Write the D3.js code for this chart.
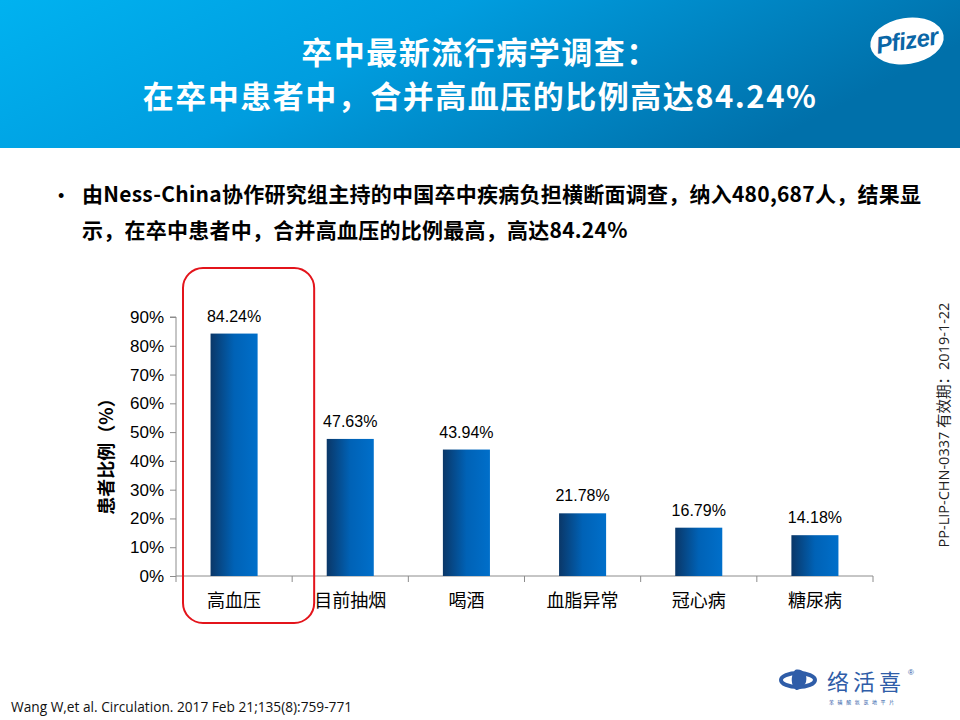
<!DOCTYPE html>
<html>
<head>
<meta charset="utf-8">
<script src="https://cdn.jsdelivr.net/npm/d3@7"></script>
<style>
  body { margin: 0; background: #fff; }
  svg { display: block; }
</style>
</head>
<body>
<div id="chart"></div>
<script>
// data
const categories = ['高血压', '目前抽烟', '喝酒', '血脂异常', '冠心病', '糖尿病'];
const values = [84.24, 47.63, 43.94, 21.78, 16.79, 14.18];
const yTicks = [0, 10, 20, 30, 40, 50, 60, 70, 80, 90];
const titleLines = ['卒中最新流行病学调查：', '在卒中患者中，合并高血压的比例高达84.24%'];
const bulletLines = [
  '由Ness-China协作研究组主持的中国卒中疾病负担横断面调查，纳入480,687人，结果显',
  '示，在卒中患者中，合并高血压的比例最高，高达84.24%'
];

const W = 960, H = 720;
const cjk = '"Noto Sans CJK SC", "Noto Sans", sans-serif';
const arial = '"Liberation Sans", Arial, sans-serif';

const svg = d3.select('#chart').append('svg')
  .attr('width', W)
  .attr('height', H);

const defs = svg.append('defs');

// header gradient
const hg = defs.append('linearGradient').attr('id', 'hdr')
  .attr('x1', '0%').attr('y1', '0%').attr('x2', '100%').attr('y2', '30%');
hg.append('stop').attr('offset', '0%').attr('stop-color', '#00b2f0');
hg.append('stop').attr('offset', '45%').attr('stop-color', '#009ddf');
hg.append('stop').attr('offset', '100%').attr('stop-color', '#0070aa');

// bar gradient (dark left edge -> bright blue)
const bg = defs.append('linearGradient').attr('id', 'bar')
  .attr('x1', '0%').attr('y1', '0%').attr('x2', '100%').attr('y2', '0%');
bg.append('stop').attr('offset', '0%').attr('stop-color', '#0a3768');
bg.append('stop').attr('offset', '50%').attr('stop-color', '#0062b6');
bg.append('stop').attr('offset', '100%').attr('stop-color', '#006fca');

// header band
svg.append('rect')
  .attr('width', W).attr('height', 148)
  .attr('fill', 'url(#hdr)');

svg.selectAll('.title')
  .data(titleLines)
  .enter().append('text')
  .attr('class', 'title')
  .attr('x', 480)
  .attr('y', (d, i) => 64 + i * 44)
  .attr('text-anchor', 'middle')
  .attr('fill', '#fff')
  .attr('font-family', cjk)
  .attr('font-weight', 'bold')
  .attr('font-size', 31)
  .attr('letter-spacing', 1.5)
  .text(d => d);

// Pfizer oval
const pf = svg.append('g').attr('transform', 'translate(907,41) rotate(-9)');
pf.append('ellipse')
  .attr('rx', 37).attr('ry', 23)
  .attr('fill', '#fff');
pf.append('text')
  .attr('y', 8)
  .attr('text-anchor', 'middle')
  .attr('fill', '#0a66a6')
  .attr('font-family', arial)
  .attr('font-weight', 'bold')
  .attr('font-style', 'italic')
  .attr('font-size', 24)
  .attr('letter-spacing', -0.5)
  .text('Pfizer');

// bullet text
svg.append('text')
  .attr('x', 58).attr('y', 202)
  .attr('font-family', arial)
  .attr('font-size', 18)
  .attr('fill', '#000')
  .text('•');

svg.selectAll('.bullet')
  .data(bulletLines)
  .enter().append('text')
  .attr('class', 'bullet')
  .attr('x', 82)
  .attr('y', (d, i) => 202 + i * 36)
  .attr('font-family', cjk)
  .attr('font-weight', 'bold')
  .attr('font-size', 21)
  .attr('letter-spacing', 0.25)
  .attr('fill', '#000')
  .text(d => d);

// chart
const x0 = 176, x1 = 873, yBottom = 576, yTop = 317;

const x = d3.scaleBand()
  .domain(categories)
  .range([x0, x1])
  .paddingInner(0.595)
  .paddingOuter(0.2975);

const xBand = d3.scaleBand()
  .domain(categories)
  .range([x0, x1]);

const y = d3.scaleLinear()
  .domain([0, 90])
  .range([yBottom, yTop]);

const chart = svg.append('g');

// y axis
const yAxis = chart.append('g')
  .attr('transform', `translate(${x0},0)`)
  .call(d3.axisLeft(y).tickValues(yTicks).tickSize(6).tickPadding(6).tickFormat(d => d + '%'));
yAxis.select('.domain').attr('stroke', '#8c8c8c').attr('d', `M-6,${yTop}H0V${yBottom}`);
yAxis.selectAll('.tick line').attr('stroke', '#8c8c8c');
yAxis.selectAll('.tick text')
  .attr('font-family', arial)
  .attr('font-size', 17)
  .attr('fill', '#000');

// x axis: baseline with ticks at band boundaries
chart.append('line')
  .attr('x1', x0).attr('x2', x1)
  .attr('y1', yBottom).attr('y2', yBottom)
  .attr('stroke', '#8c8c8c');

chart.selectAll('.xtick')
  .data(categories.concat(['end']))
  .enter().append('line')
  .attr('class', 'xtick')
  .attr('x1', (d, i) => i < categories.length ? xBand(d) : x1)
  .attr('x2', (d, i) => i < categories.length ? xBand(d) : x1)
  .attr('y1', yBottom).attr('y2', yBottom + 6)
  .attr('stroke', '#8c8c8c');

chart.selectAll('.xlabel')
  .data(categories)
  .enter().append('text')
  .attr('class', 'xlabel')
  .attr('x', d => xBand(d) + xBand.bandwidth() / 2)
  .attr('y', 607)
  .attr('text-anchor', 'middle')
  .attr('font-family', cjk)
  .attr('font-size', 18)
  .attr('fill', '#000')
  .text(d => d);

// bars
chart.selectAll('.bar')
  .data(values)
  .enter().append('rect')
  .attr('class', 'bar')
  .attr('x', (d, i) => x(categories[i]))
  .attr('width', x.bandwidth())
  .attr('y', d => y(d))
  .attr('height', d => yBottom - y(d))
  .attr('fill', 'url(#bar)');

chart.selectAll('.vlabel')
  .data(values)
  .enter().append('text')
  .attr('class', 'vlabel')
  .attr('x', (d, i) => x(categories[i]) + x.bandwidth() / 2)
  .attr('y', d => y(d) - 12)
  .attr('text-anchor', 'middle')
  .attr('font-family', arial)
  .attr('font-size', 16)
  .attr('fill', '#000')
  .text(d => d.toFixed(2) + '%');

// y axis title
svg.append('text')
  .attr('transform', 'translate(113,452) rotate(-90)')
  .attr('text-anchor', 'middle')
  .attr('font-family', cjk)
  .attr('font-weight', 'bold')
  .attr('font-size', 18)
  .attr('fill', '#000')
  .text('患者比例（%）');

// red highlight around first category
svg.append('rect')
  .attr('x', xBand(categories[0]) + 7)
  .attr('y', 268)
  .attr('width', xBand.bandwidth() + 15)
  .attr('height', 355)
  .attr('rx', 20)
  .attr('fill', 'none')
  .attr('stroke', '#e3141b')
  .attr('stroke-width', 2);

// vertical code on the right
svg.append('text')
  .attr('transform', 'translate(949,425) rotate(-90)')
  .attr('text-anchor', 'middle')
  .attr('font-family', '"Open Sans", "Noto Sans CJK SC", sans-serif')
  .attr('font-size', 14.5)
  .attr('fill', '#222')
  .text('PP-LIP-CHN-0337  有效期：2019-1-22');

// reference
svg.append('text')
  .attr('x', 11).attr('y', 712)
  .attr('font-family', '"Open Sans", "Noto Sans", sans-serif')
  .attr('font-size', 13.7)
  .attr('fill', '#111')
  .text('Wang W,et al. Circulation. 2017 Feb 21;135(8):759-771');

// product logo
const lg = svg.append('g');
lg.append('ellipse')
  .attr('cx', 798).attr('cy', 680)
  .attr('rx', 17).attr('ry', 7)
  .attr('fill', 'none')
  .attr('stroke', '#2f5da8')
  .attr('stroke-width', 4);
lg.append('path')
  .attr('d', 'M795,670 C802,668 808,674 806,682 C804,688 799,690 796,690 C791,686 790,676 795,670 Z')
  .attr('fill', '#2f5da8');
lg.append('text')
  .attr('x', 827).attr('y', 690)
  .attr('font-family', cjk)
  .attr('font-size', 22)
  .attr('letter-spacing', 4)
  .attr('fill', '#2f5da8')
  .text('络活喜');
lg.append('text')
  .attr('x', 908).attr('y', 675)
  .attr('font-family', arial)
  .attr('font-size', 8)
  .attr('fill', '#2f5da8')
  .text('®');
lg.append('text')
  .attr('x', 829).attr('y', 704)
  .attr('font-family', cjk)
  .attr('font-size', 5)
  .attr('letter-spacing', 3.6)
  .attr('fill', '#2f5da8')
  .text('苯磺酸氨氯地平片');
</script>
</body>
</html>
